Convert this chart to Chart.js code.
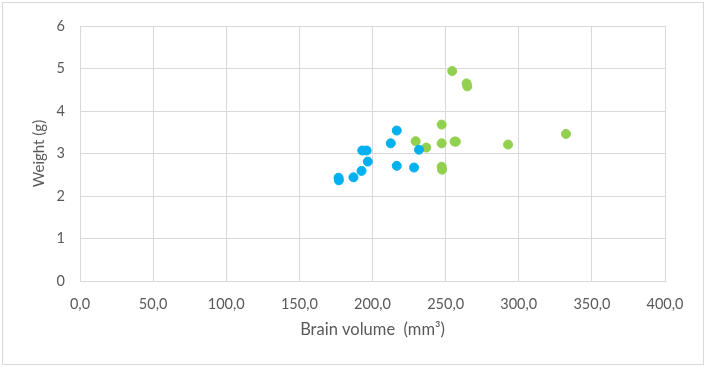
<!DOCTYPE html>
<html><head><meta charset="utf-8">
<script src="https://cdn.jsdelivr.net/npm/chart.js@4/dist/chart.umd.min.js"></script>
<style>html,body{margin:0;padding:0;background:#fff}#wrap{width:707px;height:367px;position:relative}</style>
</head><body><div id="wrap"><canvas id="c" width="707" height="367"></canvas></div>
<script>
const blueX = [176.8, 177.0, 187.0, 192.5, 196.8, 193.0, 196.0, 212.5, 216.6, 216.6, 228.4, 231.8];
const blueY = [2.43, 2.37, 2.44, 2.59, 2.81, 3.07, 3.07, 3.24, 3.54, 2.71, 2.67, 3.09];
const greenX = [254.5, 264.3, 264.8, 247.3, 229.5, 236.8, 247.3, 256.1, 257.0, 292.7, 332.3, 247.3, 247.6];
const greenY = [4.94, 4.65, 4.58, 3.68, 3.29, 3.14, 3.24, 3.28, 3.28, 3.21, 3.46, 2.69, 2.62];
const xTicks = [0, 50, 100, 150, 200, 250, 300, 350, 400];
const yTicks = [0, 1, 2, 3, 4, 5, 6];
const xTitle = 'Brain volume  (mm³)';
const yTitle = 'Weight (g)';

const pts = (xs, ys) => xs.map((x, i) => ({x: x, y: ys[i]}));
const grid = '#D9D9D9', txt = '#595959';
const FONT = 'Lato, "Liberation Sans", sans-serif';

const borderPlugin = {
  id: 'outer',
  beforeDraw(chart) {
    const ctx = chart.ctx;
    ctx.save();
    ctx.fillStyle = '#fff';
    ctx.fillRect(0, 0, chart.width, chart.height);
    ctx.strokeStyle = grid;
    ctx.lineWidth = 1;
    ctx.strokeRect(2.5, 2.5, 701, 362);
    ctx.restore();
  }
};

new Chart(document.getElementById('c'), {
  type: 'scatter',
  data: {
    datasets: [
      {label: 'A', data: pts(blueX, blueY), backgroundColor: '#00B0F0', borderColor: '#00B0F0', pointRadius: 4.5, pointHoverRadius: 4.5},
      {label: 'B', data: pts(greenX, greenY), backgroundColor: '#92D050', borderColor: '#92D050', pointRadius: 4.5, pointHoverRadius: 4.5}
    ]
  },
  options: {
    responsive: false,
    animation: false,
    devicePixelRatio: 1,
    layout: {padding: {top: 26, right: 42, left: 0, bottom: 0}},
    plugins: {legend: {display: false}, tooltip: {enabled: false}},
    scales: {
      x: {
        type: 'linear', min: 0, max: 400,
        afterBuildTicks: s => { s.ticks = xTicks.map(v => ({value: v})); },
        afterFit: s => { s.height = 86; },
        grid: {color: grid, drawTicks: false},
        border: {color: grid},
        ticks: {color: txt, font: {family: FONT, size: 14.5}, padding: 15, maxRotation: 0, autoSkip: false,
          callback: v => v.toFixed(1).replace('.', ',')},
        title: {display: true, text: xTitle, color: txt, font: {family: FONT, size: 16.5}, padding: {top: 0, bottom: 27}}
      },
      y: {
        type: 'linear', min: 0, max: 6,
        afterBuildTicks: s => { s.ticks = yTicks.map(v => ({value: v})); },
        afterFit: s => { s.width = 80; },
        grid: {color: grid, drawTicks: false},
        border: {color: grid},
        ticks: {color: txt, font: {family: FONT, size: 14.5}, padding: 15},
        title: {display: true, text: yTitle, color: txt, font: {family: FONT, size: 15}, padding: {top: 30, bottom: 0}}
      }
    }
  },
  plugins: [borderPlugin]
});
</script></body></html>
